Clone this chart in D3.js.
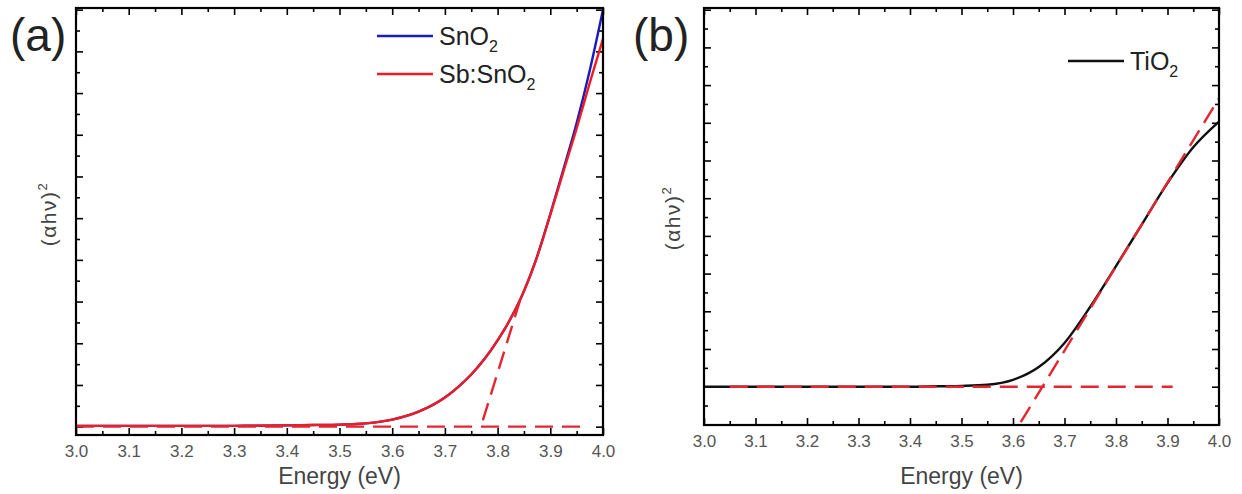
<!DOCTYPE html>
<html>
<head>
<meta charset="utf-8">
<script src="https://cdn.jsdelivr.net/npm/d3@7"></script>
<style>
  body { margin: 0; background: #fff; }
  svg { display: block; font-family: "Liberation Sans", Arial, sans-serif; }
</style>
</head>
<body>
<div id="chart"></div>
<script>
// panel (a) readings
const energyA = [3.0, 3.1, 3.2, 3.3, 3.4, 3.45, 3.5, 3.55, 3.6, 3.65, 3.7, 3.725, 3.75, 3.775, 3.8, 3.825, 3.85, 3.875, 3.9, 3.925, 3.95, 3.975, 4.0]
const sno2 = [0.02, 0.02, 0.02, 0.02, 0.03, 0.04, 0.05, 0.08, 0.17, 0.36, 0.70, 0.95, 1.25, 1.62, 2.07, 2.6, 3.25, 4.08, 5.1, 6.18, 7.28, 8.55, 10.0]
const sbSno2 = [0.02, 0.02, 0.02, 0.02, 0.03, 0.04, 0.05, 0.08, 0.17, 0.36, 0.70, 0.95, 1.25, 1.62, 2.07, 2.6, 3.25, 4.08, 5.08, 6.12, 7.15, 8.25, 9.3]
const baseA = [[3.0, 0.0], [3.97, 0.0]]
const tangentA = [[3.772, 0.15], [3.848, 3.25]]

// panel (b) readings
const energyB = [3.0, 3.1, 3.2, 3.3, 3.4, 3.45, 3.5, 3.55, 3.6, 3.65, 3.7, 3.75, 3.8, 3.85, 3.9, 3.95, 4.0]
const tio2 = [0.0, 0.0, 0.0, 0.0, 0.0, 0.01, 0.02, 0.05, 0.18, 0.52, 1.16, 2.12, 3.2, 4.3, 5.4, 6.35, 7.03]
const baseB = [[3.05, 0.0], [3.91, 0.0]]
const tangentB = [[3.615, -0.94], [4.0, 7.65]]

const xMajor = d3.range(0, 11).map(i => 3 + i / 10)
const xMinor = d3.range(0, 10).map(i => 3.05 + i / 10)
const yMajor = d3.range(0, 11)
const yMinor = [-0.5].concat(d3.range(0, 10).map(i => i + 0.5))

const colors = { blue: '#1c1cb8', red: '#ee1c25', dash: '#e32630', black: '#111' }

const svg = d3.select('#chart')
    .append('svg')
    .attr('width', 1242)
    .attr('height', 494)

function drawPanel(p) {
    const x = d3.scaleLinear().domain([3, 4]).range([p.left, p.right])
    const y = d3.scaleLinear().domain(p.yDomain).range([p.bottom, p.top])
    const g = svg.append('g')
    const inY = v => v > p.yDomain[0] + 0.05 && v < p.yDomain[1] - 0.02

    const clipId = 'clip-' + p.name
    g.append('clipPath').attr('id', clipId)
        .append('rect')
        .attr('x', p.left).attr('y', p.top)
        .attr('width', p.right - p.left).attr('height', p.bottom - p.top)

    // inward ticks on all four sides
    const yMaj = yMajor.filter(inY)
    const yMin = yMinor.filter(inY)
    const tickSet = [
        [d3.axisBottom(x).tickValues(xMajor).tickSizeInner(-7).tickPadding(10).tickFormat(d3.format('.1f')), `translate(0,${p.bottom})`, true],
        [d3.axisBottom(x).tickValues(xMinor).tickSizeInner(-4).tickFormat(''), `translate(0,${p.bottom})`, false],
        [d3.axisTop(x).tickValues(xMajor).tickSizeInner(-7).tickFormat(''), `translate(0,${p.top})`, false],
        [d3.axisTop(x).tickValues(xMinor).tickSizeInner(-4).tickFormat(''), `translate(0,${p.top})`, false],
        [d3.axisLeft(y).tickValues(yMaj).tickSizeInner(-7).tickFormat(''), `translate(${p.left},0)`, false],
        [d3.axisLeft(y).tickValues(yMin).tickSizeInner(-4).tickFormat(''), `translate(${p.left},0)`, false],
        [d3.axisRight(y).tickValues(yMaj).tickSizeInner(-7).tickFormat(''), `translate(${p.right},0)`, false],
        [d3.axisRight(y).tickValues(yMin).tickSizeInner(-4).tickFormat(''), `translate(${p.right},0)`, false],
    ]
    tickSet.forEach(([axis, tr, labels]) => {
        const a = g.append('g').attr('transform', tr).call(axis.tickSizeOuter(0))
        a.select('.domain').remove()
        a.selectAll('line').attr('stroke', '#000').attr('stroke-width', 1.6)
        if (labels) {
            a.selectAll('text')
                .attr('fill', '#555')
                .style('font-size', '17px')
                .style('font-family', '"Liberation Sans", Arial, sans-serif')
        }
    })

    const plot = g.append('g').attr('clip-path', `url(#${clipId})`)
    const line = d3.line().x(d => x(d[0])).y(d => y(d[1]))
    const curve = d3.line().x(d => x(d[0])).y(d => y(d[1])).curve(d3.curveMonotoneX)

    p.series.forEach(s => {
        plot.append('path')
            .datum(d3.zip(p.energy, s.values))
            .attr('d', curve)
            .attr('fill', 'none')
            .attr('stroke', s.color)
            .attr('stroke-width', 2.4)
    })
    p.fits.forEach(f => {
        plot.append('path')
            .datum(f)
            .attr('d', line)
            .attr('fill', 'none')
            .attr('stroke', colors.dash)
            .attr('stroke-width', 2.4)
            .attr('stroke-dasharray', '18,9')
    })

    // frame
    g.append('rect')
        .attr('x', p.left).attr('y', p.top)
        .attr('width', p.right - p.left).attr('height', p.bottom - p.top)
        .attr('fill', 'none')
        .attr('stroke', '#000')
        .attr('stroke-width', 2.2)

    // axis titles
    g.append('text')
        .attr('x', (p.left + p.right) / 2)
        .attr('y', 484)
        .attr('text-anchor', 'middle')
        .attr('fill', '#444')
        .style('font-size', '23px')
        .text('Energy (eV)')

    const yl = g.append('text')
        .attr('transform', `translate(${p.yLabelX},${p.yLabelY}) rotate(-90)`)
        .attr('text-anchor', 'middle')
        .attr('fill', '#444')
        .style('font-size', '21px')
        .style('letter-spacing', '1.5px')
    yl.append('tspan').text('(αhν)')
    yl.append('tspan').attr('dy', -9).style('font-size', '13px').text('2')

    g.append('text')
        .attr('x', p.tagX)
        .attr('y', 51)
        .attr('fill', '#222')
        .style('font-size', '46px')
        .text(p.tag)

    // legend
    p.legend.forEach((l, i) => {
        const ly = p.legendY + i * 38
        g.append('line')
            .attr('x1', p.legendX).attr('x2', p.legendX + 56)
            .attr('y1', ly).attr('y2', ly)
            .attr('stroke', l.color)
            .attr('stroke-width', 2.4)
        const t = g.append('text')
            .attr('x', p.legendX + 62)
            .attr('y', ly + 9)
            .attr('fill', '#222')
            .style('font-size', '25px')
        t.append('tspan').text(l.label)
        t.append('tspan').attr('dy', 7).style('font-size', '16px').text('2')
    })
}

drawPanel({
    name: 'a', tag: '(a)', tagX: 10,
    left: 76, right: 603, top: 8, bottom: 435,
    yDomain: [-0.2, 10.04],
    yLabelX: 56, yLabelY: 214,
    energy: energyA,
    series: [
        { values: sno2, color: colors.blue },
        { values: sbSno2, color: colors.red },
    ],
    fits: [baseA, tangentA],
    legendX: 377, legendY: 36,
    legend: [
        { label: 'SnO', color: colors.blue },
        { label: 'Sb:SnO', color: colors.red },
    ],
})

drawPanel({
    name: 'b', tag: '(b)', tagX: 633,
    left: 704, right: 1219, top: 8, bottom: 425,
    yDomain: [-1.016, 10.045],
    yLabelX: 680, yLabelY: 218,
    energy: energyB,
    series: [
        { values: tio2, color: colors.black },
    ],
    fits: [baseB, tangentB],
    legendX: 1068, legendY: 61,
    legend: [
        { label: 'TiO', color: colors.black },
    ],
})
</script>
</body>
</html>
